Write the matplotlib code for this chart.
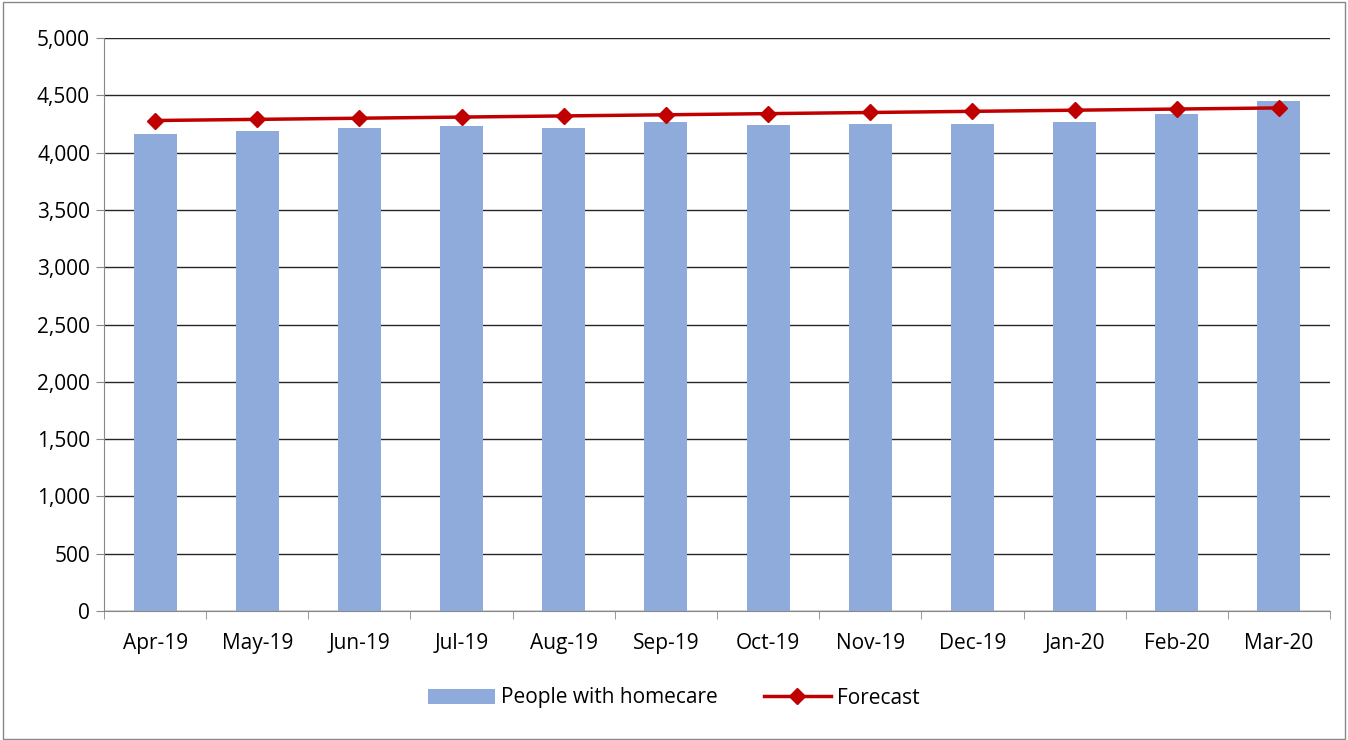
import matplotlib.pyplot as plt
import numpy as np

months = ['Apr-19', 'May-19', 'Jun-19', 'Jul-19', 'Aug-19', 'Sep-19',
          'Oct-19', 'Nov-19', 'Dec-19', 'Jan-20', 'Feb-20', 'Mar-20']
homecare = [4165, 4188, 4218, 4235, 4212, 4264, 4241, 4250, 4252, 4270, 4337, 4453]
forecast = [4280, 4290, 4300, 4310, 4320, 4330, 4340, 4350, 4360, 4370, 4380, 4390]

plt.rcParams['font.family'] = ['Open Sans', 'DejaVu Sans']
fs = 15

fig = plt.figure(figsize=(13.48, 7.40), dpi=100)
ax = fig.add_axes([104 / 1348, 1 - 611 / 740, 1226 / 1348, 573 / 740])

x = np.arange(len(months))
bars = ax.bar(x, homecare, width=0.42, color='#8eabdc', label='People with homecare', zorder=2)
line, = ax.plot(x, forecast, color='#c00000', linewidth=2.5, marker='D', markersize=8,
                label='Forecast', zorder=3)

ax.set_xlim(-0.5, len(months) - 0.5)
ax.set_ylim(0, 5000)
ax.set_yticks(np.arange(0, 5001, 500))
ax.set_yticklabels([f'{v:,}' for v in range(0, 5001, 500)])
ax.yaxis.grid(True, color='#262626', linewidth=1, zorder=0)
ax.set_axisbelow(True)

ax.set_xticks(x)
ax.set_xticklabels(months)
ax.set_xticks(np.arange(-0.5, len(months)), minor=True)
ax.tick_params(axis='x', which='major', length=0, pad=16, labelsize=fs)
ax.tick_params(axis='x', which='minor', length=6, color='#888888', direction='out')
ax.tick_params(axis='y', length=6, color='#888888', labelsize=fs, pad=4)

for s in ['top', 'right']:
    ax.spines[s].set_visible(False)
ax.spines['left'].set_color('#888888')
ax.spines['bottom'].set_color('#888888')

fig.legend([bars, line], ['People with homecare', 'Forecast'], loc='center',
           bbox_to_anchor=(0.5, 1 - 698 / 740), ncol=2, frameon=False,
           fontsize=fs, handlelength=3.2, columnspacing=2.2, handletextpad=0.3)

fig.patches.append(plt.Rectangle((0.002, 0.002), 0.996, 0.995, transform=fig.transFigure,
                                 fill=False, edgecolor='#888888', linewidth=1))

fig.savefig('out.png', dpi=100)
